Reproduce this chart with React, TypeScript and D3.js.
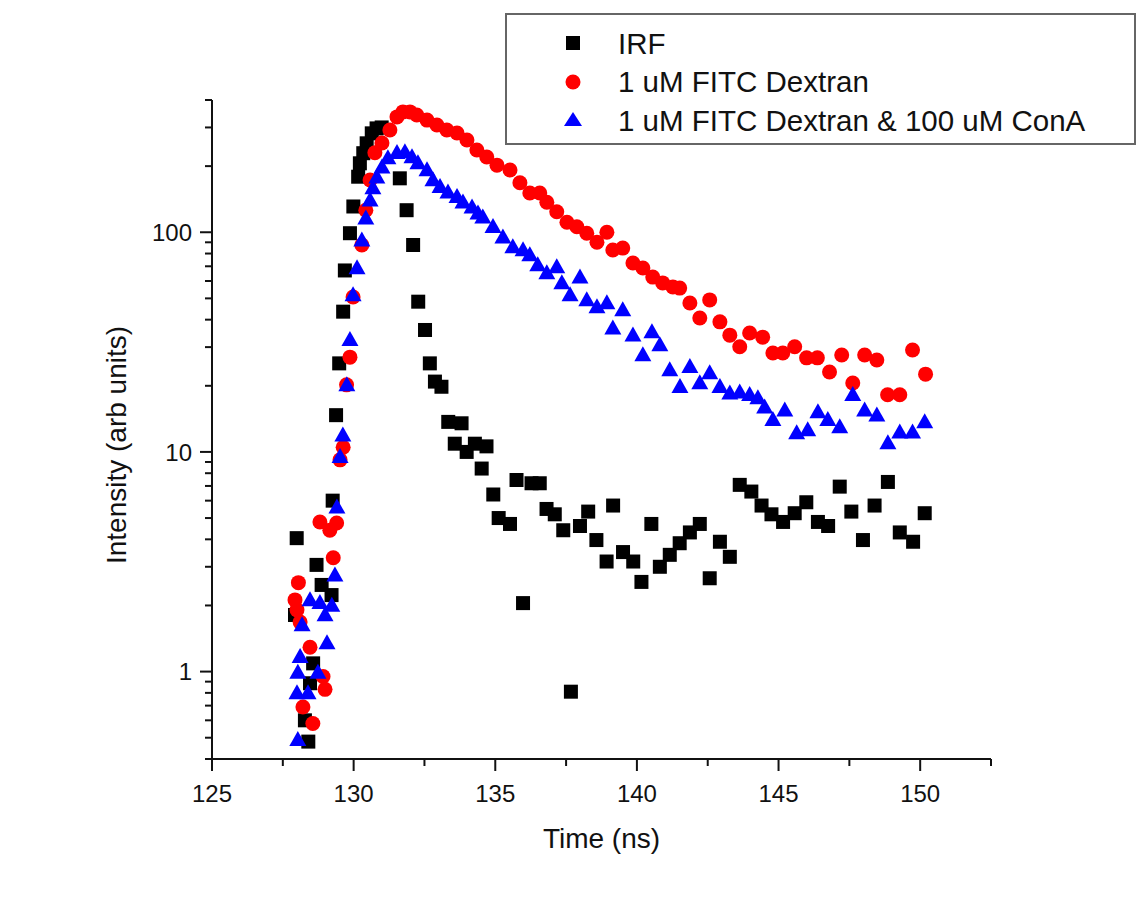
import React from "react";
import * as d3 from "d3";

// ---- Data (time in ns, intensity in arb units) ----
const irfTime = [127.93, 127.99, 128.28, 128.40, 128.46, 128.57, 128.69, 128.87, 129.22, 129.26, 129.38, 129.49, 129.63, 129.69, 129.87, 129.99, 130.16, 130.22, 130.34, 130.46, 130.64, 130.81, 130.99, 131.63, 131.87, 132.10, 132.28, 132.52, 132.69, 132.87, 133.10, 133.34, 133.57, 133.81, 133.99, 134.28, 134.52, 134.69, 134.93, 135.12, 135.52, 135.75, 135.98, 136.28, 136.57, 136.81, 137.10, 137.40, 137.67, 137.99, 138.28, 138.57, 138.93, 139.16, 139.51, 139.87, 140.16, 140.51, 140.81, 141.16, 141.51, 141.87, 142.22, 142.57, 142.93, 143.28, 143.63, 144.04, 144.40, 144.75, 145.16, 145.57, 145.98, 146.39, 146.75, 147.16, 147.57, 147.98, 148.39, 148.86, 149.28, 149.75, 150.16];
const irfValue = [1.81, 4.05, 0.60, 0.48, 0.885, 1.09, 3.06, 2.48, 2.23, 6.0, 14.7, 25.3, 43.5, 67, 99, 131, 179, 206, 229, 254, 282, 297, 300, 176, 126, 87.5, 48.3, 35.9, 25.3, 20.9, 19.8, 13.7, 10.9, 13.5, 10.0, 10.9, 8.4, 10.6, 6.4, 5.0, 4.7, 7.45, 2.05, 7.2, 7.2, 5.5, 5.2, 4.4, 0.81, 4.6, 5.35, 3.97, 3.17, 5.7, 3.5, 3.17, 2.56, 4.7, 3.0, 3.4, 3.84, 4.3, 4.7, 2.66, 3.9, 3.33, 7.08, 6.6, 5.7, 5.2, 4.8, 5.26, 5.9, 4.8, 4.6, 6.95, 5.35, 3.97, 5.7, 7.3, 4.3, 3.9, 5.26];

const fitcTime = [127.93, 128.00, 128.05, 128.11, 128.21, 128.46, 128.56, 128.81, 128.92, 128.99, 129.16, 129.28, 129.40, 129.52, 129.63, 129.75, 129.87, 129.98, 130.29, 130.43, 130.58, 130.75, 131.00, 131.28, 131.53, 131.74, 131.99, 132.23, 132.59, 132.94, 133.29, 133.65, 134.00, 134.35, 134.70, 135.06, 135.52, 135.87, 136.22, 136.57, 136.82, 137.17, 137.53, 137.88, 138.23, 138.59, 138.94, 139.15, 139.50, 139.86, 140.21, 140.56, 140.91, 141.27, 141.51, 141.87, 142.22, 142.57, 142.93, 143.28, 143.63, 143.98, 144.44, 144.80, 145.15, 145.57, 145.99, 146.37, 146.80, 147.23, 147.62, 148.04, 148.47, 148.85, 149.28, 149.73, 150.19];
const fitcValue = [2.12, 1.91, 2.54, 1.68, 0.69, 1.29, 0.58, 4.8, 0.95, 0.83, 4.4, 3.3, 4.75, 9.2, 10.5, 20.2, 27.0, 50.7, 87.5, 126, 173, 230, 255, 292, 335, 353, 353, 342, 324, 308, 292, 283, 263, 237, 220, 202, 192, 168, 151, 151, 137, 124, 111, 106, 99, 90, 100, 83, 84.7, 72.4, 68.7, 62.5, 58.8, 56.4, 55.7, 47.6, 40.7, 49.2, 39.1, 34.0, 30.1, 34.8, 33.3, 28.2, 28.2, 30.1, 26.8, 26.8, 23.1, 27.6, 20.6, 27.6, 26.2, 18.2, 18.2, 29.1, 22.6];

const conaTime = [128.00, 128.03, 128.03, 128.11, 128.18, 128.39, 128.46, 128.74, 128.81, 128.99, 129.06, 129.23, 129.34, 129.41, 129.52, 129.62, 129.76, 129.87, 129.98, 130.12, 130.29, 130.43, 130.58, 130.68, 130.82, 131.00, 131.21, 131.53, 131.81, 132.06, 132.27, 132.59, 132.80, 133.05, 133.33, 133.65, 133.86, 134.18, 134.39, 134.56, 134.92, 135.27, 135.62, 135.98, 136.22, 136.50, 136.82, 137.17, 137.35, 137.64, 137.99, 138.23, 138.59, 138.94, 139.15, 139.50, 139.86, 140.21, 140.53, 140.81, 141.16, 141.52, 141.87, 142.22, 142.57, 142.93, 143.28, 143.63, 143.98, 144.27, 144.51, 144.80, 145.22, 145.64, 146.03, 146.39, 146.74, 147.16, 147.62, 148.04, 148.47, 148.86, 149.28, 149.73, 150.16];
const conaValue = [0.80, 0.49, 0.99, 1.17, 1.63, 0.80, 2.12, 0.99, 2.06, 1.81, 1.35, 2.0, 2.75, 5.6, 9.5, 11.9, 20.2, 32.4, 51.8, 68.7, 92, 116, 140, 159, 178, 198, 218, 230, 232, 220, 207, 192, 173, 161, 152, 145, 137, 130, 122, 117, 106, 95, 85.7, 83, 78.8, 71, 65.3, 69.5, 58.8, 51.8, 62.5, 49.2, 45.7, 47.6, 36.6, 44.3, 34.0, 27.6, 35.2, 30.7, 23.6, 19.8, 24.4, 20.6, 22.9, 19.8, 18.5, 18.7, 18.2, 17.6, 16.0, 14.0, 15.5, 12.2, 12.6, 15.2, 14.0, 13.0, 18.2, 15.5, 14.7, 11.0, 12.3, 12.3, 13.7];

const xTickValues = [125, 130, 135, 140, 145, 150];
const xMinorValues = [127.5, 132.5, 137.5, 142.5, 147.5, 152.5];
const yTickValues = [1, 10, 100];
const yTickLabels = ["1", "10", "100"];
const seriesNames = ["IRF", "1 uM FITC Dextran", "1 uM FITC Dextran & 100 uM ConA"];
const xDomain = [125, 152.5];
const yDomain = [0.4, 400];

const FONT = "'Liberation Sans', Arial, Helvetica, sans-serif";

function Square({ cx, cy, s }: { cx: number; cy: number; s: number }) {
  return <rect x={cx - s / 2} y={cy - s / 2} width={s} height={s} fill="#000" />;
}
function Tri({ cx, cy, w, h, color }: { cx: number; cy: number; w: number; h: number; color: string }) {
  const p = `M${cx},${cy - h * 0.58}L${cx - w / 2},${cy + h * 0.42}L${cx + w / 2},${cy + h * 0.42}Z`;
  return <path d={p} fill={color} />;
}

export default function App() {
  const W = 1138, H = 905;
  const left = 212, right = 991, top = 100, bottom = 759;
  const x = d3.scaleLinear().domain(xDomain).range([left, right]);
  const y = d3.scaleLog().domain(yDomain).range([bottom, top]);
  const yMinor = y.ticks().filter((v) => !yTickValues.includes(v));

  const irf = irfTime.map((t, i) => [t, irfValue[i]]);
  const fitc = fitcTime.map((t, i) => [t, fitcValue[i]]);
  const cona = conaTime.map((t, i) => [t, conaValue[i]]);

  const red = "#ff0000";
  const blue = "#0000ff";

  return (
    <svg width={W} height={H} style={{ position: "absolute", left: 0, top: 0, background: "#fff" }} fontFamily={FONT}>
      <rect x={0} y={0} width={W} height={H} fill="#fff" />
      {/* data */}
      <g>
        {irf.map(([t, v], i) => (
          <Square key={"k" + i} cx={x(t)} cy={y(v)} s={14} />
        ))}
      </g>
      <g>
        {fitc.map(([t, v], i) => (
          <circle key={"r" + i} cx={x(t)} cy={y(v)} r={7.5} fill={red} />
        ))}
      </g>
      <g>
        {cona.map(([t, v], i) => (
          <Tri key={"b" + i} cx={x(t)} cy={y(v)} w={17} h={15} color={blue} />
        ))}
      </g>

      {/* axes */}
      <g stroke="#111" strokeWidth={2} fill="none">
        <line x1={left} y1={top} x2={left} y2={bottom + 1} />
        <line x1={left - 1} y1={bottom} x2={right} y2={bottom} />
        {xTickValues.map((v) => (
          <line key={"xt" + v} x1={x(v)} x2={x(v)} y1={bottom} y2={bottom + 12} />
        ))}
        {xMinorValues.map((v) => (
          <line key={"xm" + v} x1={x(v)} x2={x(v)} y1={bottom} y2={bottom + 7} />
        ))}
        {yTickValues.map((v) => (
          <line key={"yt" + v} x1={left - 12} x2={left} y1={y(v)} y2={y(v)} />
        ))}
        {yMinor.map((v) => (
          <line key={"ym" + v} x1={left - 7} x2={left} y1={y(v)} y2={y(v)} />
        ))}
      </g>
      <g fontSize={24} fill="#111">
        {xTickValues.map((v) => (
          <text key={"xl" + v} x={x(v)} y={802} textAnchor="middle">
            {v}
          </text>
        ))}
        {yTickValues.map((v, i) => (
          <text key={"yl" + v} x={192} y={y(v)} dy="0.36em" textAnchor="end">
            {yTickLabels[i]}
          </text>
        ))}
      </g>
      <text x={(left + right) / 2} y={848} fontSize={28} textAnchor="middle" fill="#111">
        Time (ns)
      </text>
      <text transform={`translate(126,445) rotate(-90)`} fontSize={28} textAnchor="middle" fill="#111">
        Intensity (arb units)
      </text>

      {/* legend */}
      <rect x={506} y={14} width={629} height={130} fill="#fff" stroke="#666" strokeWidth={2} />
      <Square cx={573} cy={43} s={14} />
      <circle cx={573} cy={82} r={7.5} fill={red} />
      <Tri cx={573} cy={120} w={18} h={14} color={blue} />
      <g fontSize={29.5} fill="#111">
        {seriesNames.map((n, i) => (
          <text key={n} x={618} y={43 + i * 38.5 + 10.5}>
            {n}
          </text>
        ))}
      </g>
    </svg>
  );
}
